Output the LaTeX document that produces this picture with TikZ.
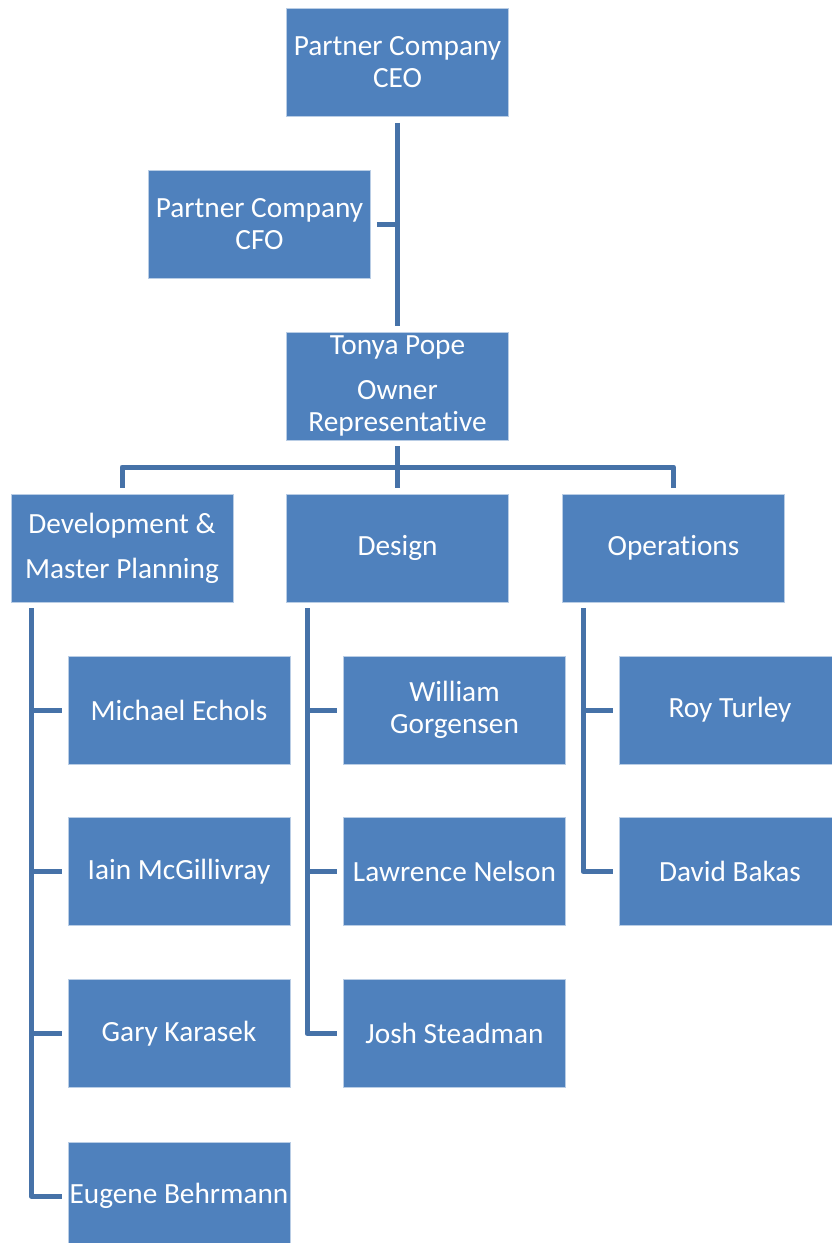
\documentclass[tikz,border=0pt]{standalone}
\usepackage{fontspec}
\setmainfont{Carlito}[Ligatures=NoCommon]
\definecolor{boxblue}{HTML}{4F81BD}
\definecolor{linkblue}{HTML}{4672A8}
\begin{document}
\begin{tikzpicture}[x=1pt,y=-1pt,
  orgbox/.style={rectangle, fill=boxblue, draw=white!60!boxblue, line width=0.8pt,
    minimum width=222pt, minimum height=108pt, inner sep=0pt, align=center,
    text=white, font=\fontsize{29.3}{32}\selectfont},
  conn/.style={draw=linkblue, line width=5pt, line join=round}]
\useasboundingbox (0,0) rectangle (832,1243);
\clip (0,0) rectangle (832,1243);
% top levels
\node[orgbox] (ceo) at (397.5,62.5) {Partner Company\\CEO};
\node[orgbox] (cfo) at (259.5,224) {Partner Company\\CFO};
\node[orgbox] (tonya) at (397.5,386) {Tonya Pope\\[13pt]Owner\\Representative};
% departments
\node[orgbox] (dev) at (122,548) {Development \&\\[13pt]Master Planning};
\node[orgbox] (design) at (397.5,548) {Design};
\node[orgbox] (ops) at (673.5,548) {Operations};
% dev members
\node[orgbox] (michael) at (179,710) {Michael Echols};
\node[orgbox] (iain) at (179,871.5) {Iain McGillivray};
\node[orgbox] (gary) at (179,1033.5) {Gary Karasek};
\node[orgbox] (eugene) at (179,1196) {Eugene Behrmann};
% design members
\node[orgbox] (william) at (454.5,710) {William\\Gorgensen};
\node[orgbox] (lawrence) at (454.5,871.5) {Lawrence Nelson};
\node[orgbox] (josh) at (454.5,1033.5) {Josh Steadman};
% ops members
\node[orgbox] (roy) at (730,710) {Roy Turley};
\node[orgbox] (david) at (730,871.5) {David Bakas};
% coordinates
\coordinate (bus) at (397.5,467);
\coordinate (devtrunk) at (31,602);
\coordinate (destrunk) at (307,602);
\coordinate (opstrunk) at (583,602);
% connectors
\draw[conn, shorten <=6pt, shorten >=6pt] (ceo) -- (tonya);
\draw[conn, shorten <=6pt] (cfo.east) -- (cfo.east -| ceo.south);
\draw[conn, shorten <=6pt, shorten >=6pt] (tonya) -- (design);
\draw[conn, shorten <=6pt, shorten >=6pt] (dev.north) |- (bus) -| (ops.north);
\draw[conn, shorten <=6pt, shorten >=6pt] (devtrunk) |- (eugene.west);
\draw[conn, shorten >=6pt] (michael.west -| devtrunk) -- (michael.west);
\draw[conn, shorten >=6pt] (iain.west -| devtrunk) -- (iain.west);
\draw[conn, shorten >=6pt] (gary.west -| devtrunk) -- (gary.west);
\draw[conn, shorten <=6pt, shorten >=6pt] (destrunk) |- (josh.west);
\draw[conn, shorten >=6pt] (william.west -| destrunk) -- (william.west);
\draw[conn, shorten >=6pt] (lawrence.west -| destrunk) -- (lawrence.west);
\draw[conn, shorten <=6pt, shorten >=6pt] (opstrunk) |- (david.west);
\draw[conn, shorten >=6pt] (roy.west -| opstrunk) -- (roy.west);
\end{tikzpicture}
\end{document}
